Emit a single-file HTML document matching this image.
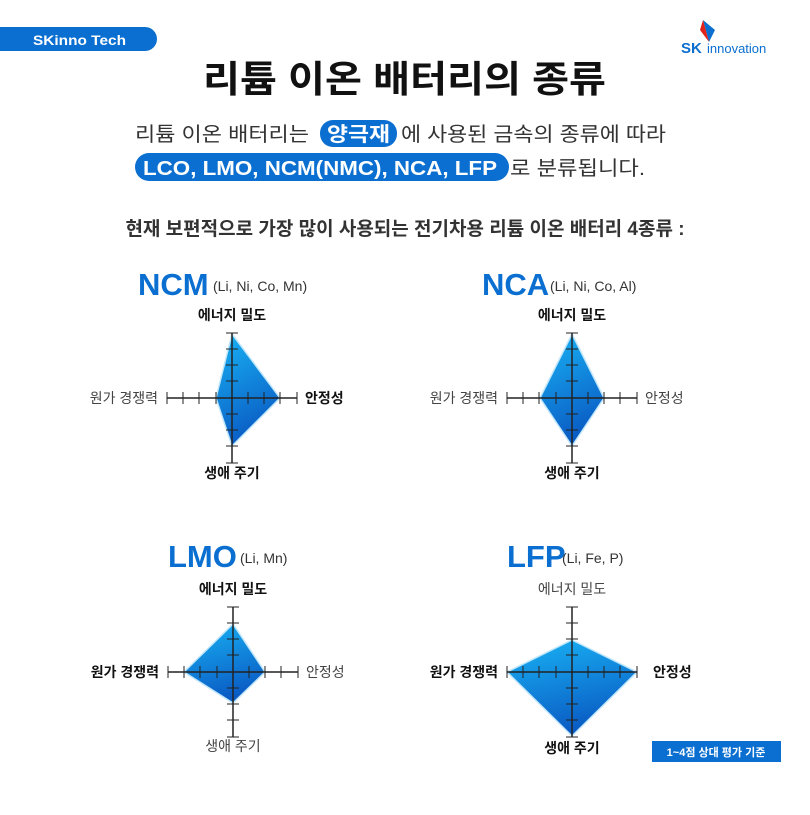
<!DOCTYPE html>
<html><head><meta charset="utf-8"><style>
body{margin:0;width:810px;height:810px;background:#fff;overflow:hidden;font-family:"Liberation Sans","Noto Sans CJK KR",sans-serif}
</style></head><body>
<svg width="810" height="810" viewBox="0 0 810 810" xmlns="http://www.w3.org/2000/svg" font-family="Liberation Sans, Noto Sans CJK KR, sans-serif">
<defs>
<linearGradient id="g" x1="0" y1="0" x2="0.3" y2="1"><stop offset="0" stop-color="#19b4f5"/><stop offset="1" stop-color="#0a5cc4"/></linearGradient>
</defs>
<path d="M0 27 H145 A12 12 0 0 1 157 39 A12 12 0 0 1 145 51 H0Z" fill="#0a6fd0"/>
<text x="33" y="45" font-size="14" font-weight="bold" fill="#fff" textLength="93" lengthAdjust="spacingAndGlyphs">SKinno Tech</text>
<path d="M703 20 l12 10 l-6 12 z" fill="#0a6fd0"/><path d="M703 20 l-3 10 l9 12z" fill="#e2231a"/>
<text x="681" y="53" font-size="15" font-weight="bold" fill="#0a6fd0">SK</text>
<text x="707" y="53" font-size="13" fill="#0a6fd0">innovation</text>
<text x="203" y="92" font-size="37" font-weight="bold" fill="#111" textLength="403" lengthAdjust="spacingAndGlyphs">리튬 이온 배터리의 종류</text>
<rect x="320" y="120" width="77" height="27" rx="13" fill="#0a6fd0"/>
<rect x="135" y="153" width="374" height="28" rx="14" fill="#0a6fd0"/>
<text font-size="20" fill="#333" y="141"><tspan x="135" textLength="174" lengthAdjust="spacingAndGlyphs">리튬 이온 배터리는</tspan></text>
<text font-size="20" y="141" x="327" fill="#fff" font-weight="bold" textLength="63" lengthAdjust="spacingAndGlyphs">양극재</text>
<text font-size="20" y="141" x="401" fill="#333" textLength="265" lengthAdjust="spacingAndGlyphs">에 사용된 금속의 종류에 따라</text>
<text font-size="20" y="175" x="143" fill="#fff" font-weight="bold" textLength="354" lengthAdjust="spacingAndGlyphs">LCO, LMO, NCM(NMC), NCA, LFP</text>
<text font-size="20" y="175" x="510" fill="#333" textLength="135" lengthAdjust="spacingAndGlyphs">로 분류됩니다.</text>
<text x="405" y="235" text-anchor="middle" font-size="19" font-weight="bold" fill="#333">현재 보편적으로 가장 많이 사용되는 전기차용 리튬 이온 배터리 4종류 :</text>

<g>
<text x="138" y="295" font-size="31" font-weight="bold" fill="#0a6fd0">NCM</text><text x="213" y="291" font-size="14" fill="#333">(Li, Ni, Co, Mn)</text>
<polygon points="232,334 280,398 232,446 216,398" fill="url(#g)" stroke="#bfe6fb" stroke-width="1.5"/>
<g stroke="#222" stroke-width="1.5"><line x1="232" y1="333" x2="232" y2="463"/><line x1="167" y1="398" x2="297" y2="398"/></g>
<g stroke="#222" stroke-width="1"><path d="M226 333h12M226 349h12M226 365h12M226 381h12M226 414h12M226 430h12M226 446h12M226 463h12M167 392v12M183 392v12M199 392v12M216 392v12M248 392v12M264 392v12M280 392v12M297 392v12"/></g>
<text x="232" y="320" text-anchor="middle" font-size="14" font-weight="bold" fill="#111">에너지 밀도</text>
<text x="158" y="403" text-anchor="end" font-size="14" fill="#444">원가 경쟁력</text>
<text x="305" y="403" font-size="14" font-weight="bold" fill="#111">안정성</text>
<text x="232" y="478" text-anchor="middle" font-size="14" font-weight="bold" fill="#111">생애 주기</text>
</g>

<g>
<text x="482" y="295" font-size="31" font-weight="bold" fill="#0a6fd0">NCA</text><text x="550" y="291" font-size="14" fill="#333">(Li, Ni, Co, Al)</text>
<polygon points="572,334 604,398 572,446 540,398" fill="url(#g)" stroke="#bfe6fb" stroke-width="1.5"/>
<g stroke="#222" stroke-width="1.5"><line x1="572" y1="333" x2="572" y2="463"/><line x1="507" y1="398" x2="637" y2="398"/></g>
<g stroke="#222" stroke-width="1"><path d="M566 333h12M566 349h12M566 365h12M566 381h12M566 414h12M566 430h12M566 446h12M566 463h12M507 392v12M523 392v12M539 392v12M556 392v12M588 392v12M604 392v12M620 392v12M637 392v12"/></g>
<text x="572" y="320" text-anchor="middle" font-size="14" font-weight="bold" fill="#111">에너지 밀도</text>
<text x="498" y="403" text-anchor="end" font-size="14" fill="#444">원가 경쟁력</text>
<text x="645" y="403" font-size="14" fill="#444">안정성</text>
<text x="572" y="478" text-anchor="middle" font-size="14" font-weight="bold" fill="#111">생애 주기</text>
</g>

<g>
<text x="168" y="567" font-size="31" font-weight="bold" fill="#0a6fd0">LMO</text><text x="240" y="563" font-size="14" fill="#333">(Li, Mn)</text>
<polygon points="233,624 265,672 233,703 184,672" fill="url(#g)" stroke="#bfe6fb" stroke-width="1.5"/>
<g stroke="#222" stroke-width="1.5"><line x1="233" y1="607" x2="233" y2="737"/><line x1="168" y1="672" x2="298" y2="672"/></g>
<g stroke="#222" stroke-width="1"><path d="M227 607h12M227 623h12M227 639h12M227 655h12M227 688h12M227 704h12M227 720h12M227 737h12M168 666v12M184 666v12M200 666v12M217 666v12M249 666v12M265 666v12M281 666v12M298 666v12"/></g>
<text x="233" y="594" text-anchor="middle" font-size="14" font-weight="bold" fill="#111">에너지 밀도</text>
<text x="159" y="677" text-anchor="end" font-size="14" font-weight="bold" fill="#111">원가 경쟁력</text>
<text x="306" y="677" font-size="14" fill="#444">안정성</text>
<text x="233" y="751" text-anchor="middle" font-size="14" fill="#444">생애 주기</text>
</g>

<g>
<text x="507" y="567" font-size="31" font-weight="bold" fill="#0a6fd0">LFP</text><text x="562" y="563" font-size="14" fill="#333">(Li, Fe, P)</text>
<polygon points="572,640 637,672 572,736 507,672" fill="url(#g)" stroke="#bfe6fb" stroke-width="1.5"/>
<g stroke="#222" stroke-width="1.5"><line x1="572" y1="607" x2="572" y2="737"/><line x1="507" y1="672" x2="637" y2="672"/></g>
<g stroke="#222" stroke-width="1"><path d="M566 607h12M566 623h12M566 639h12M566 655h12M566 688h12M566 704h12M566 720h12M566 737h12M507 666v12M523 666v12M539 666v12M556 666v12M588 666v12M604 666v12M620 666v12M637 666v12"/></g>
<text x="572" y="594" text-anchor="middle" font-size="14" fill="#444">에너지 밀도</text>
<text x="498" y="677" text-anchor="end" font-size="14" font-weight="bold" fill="#111">원가 경쟁력</text>
<text x="653" y="677" font-size="14" font-weight="bold" fill="#111">안정성</text>
<text x="572" y="753" text-anchor="middle" font-size="14" font-weight="bold" fill="#111">생애 주기</text>
</g>

<rect x="652" y="741" width="129" height="21" fill="#0a6fd0"/>
<text x="716" y="756" text-anchor="middle" font-size="11" font-weight="bold" fill="#fff">1~4점 상대 평가 기준</text>
</svg>
</body></html>
